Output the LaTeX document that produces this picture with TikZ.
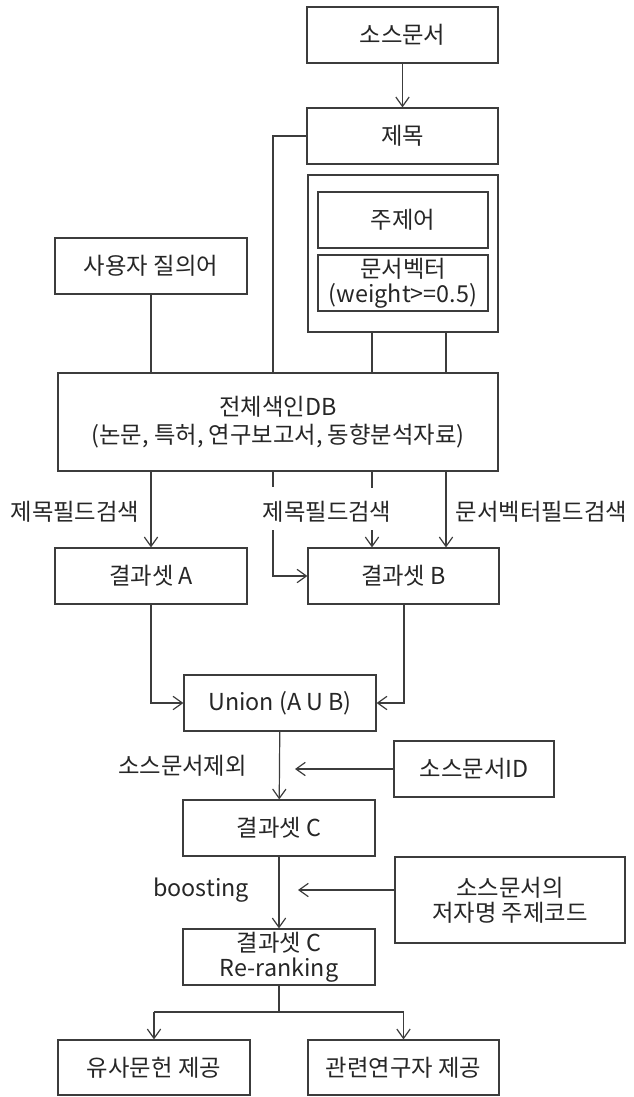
\documentclass[tikz,border=0pt]{standalone}
\usepackage{fontspec}
\setmainfont{Noto Sans CJK KR}
\usetikzlibrary{arrows.meta}
\definecolor{lncol}{HTML}{3C3C3C}
\definecolor{txtcol}{HTML}{262626}
\begin{document}
\begin{tikzpicture}[x=0.75pt,y=-0.75pt,
  every node/.style={font=\fontsize{17.5}{19}\selectfont, text=txtcol},
  box/.style={draw=lncol, line width=0.9pt, inner sep=0pt, align=center},
  sz/.style 2 args={minimum width=#1*0.75pt, minimum height=#2*0.75pt},
  ln/.style={draw=lncol, line width=0.9pt},
  arr/.style={ln, -{Straight Barb[length=7pt,width=10pt]}},
  lbl/.style={inner sep=0pt}]
\useasboundingbox (0,0) rectangle (633,1097);

% boxes
\node[box, sz={191}{56}] (src) at (402.5,35) {소스문서};
\node[box, sz={191}{56}] (title) at (402.5,136) {제목};
\node[box, sz={190}{157}] (grp) at (403,253.5) {};
\node[box, sz={170}{56}] (kw) at (403,220) {주제어};
\node[box, sz={170}{56}] (vec) at (403,283) {문서벡터\\(weight>=0.5)};
\node[box, sz={192}{56}] (query) at (151,266) {사용자 질의어};
\node[box, sz={440}{98}] (db) at (278,422) {전체색인DB\\[2pt](논문, 특허, 연구보고서, 동향분석자료)};
\node[box, sz={192}{56}] (resA) at (151,576) {결과셋 A};
\node[box, sz={191}{56}] (resB) at (403.5,576) {결과셋 B};
\node[box, sz={192}{56}] (union) at (280,703) {Union (A U B)};
\node[box, sz={160}{56}] (srcid) at (474,769) {소스문서ID};
\node[box, sz={192}{56}] (resC) at (279,828) {결과셋 C};
\node[box, sz={230}{86}] (meta) at (510,900) {소스문서의\\저자명 주제코드};
\node[box, sz={192}{56}] (rerank) at (279,957) {결과셋 C\\Re-ranking};
\node[box, sz={192}{55}] (sim) at (154,1067.5) {유사문헌 제공};
\node[box, sz={191}{55}] (rsr) at (403.5,1067.5) {관련연구자 제공};

% labels
\node[lbl] (l1) at (75,512) {제목필드검색};
\node[lbl] (l2) at (327,512) {제목필드검색};
\node[lbl] (l3) at (541.5,512) {문서벡터필드검색};
\node[lbl] (l4) at (182.5,766) {소스문서제외};
\node[lbl] (l5) at (201,890) {boosting};

% connectors
\draw[arr] (src) -- (title);
\draw[ln] (title.west) -| (273,0 |- db.north);
\draw[ln] (query) -- (query |- db.north);
\draw[ln] (372,0 |- grp.south) -- (372,0 |- db.north);
\draw[ln] (446,0 |- grp.south) -- (446,0 |- db.north);

\draw[arr] (resA.north |- db.south) -- (resA.north);
\draw[ln] (273,0 |- db.south) -- (273,487);
\draw[arr] (273,530) |- (resB.west);
\draw[ln] (372,0 |- db.south) -- (372,488);
\draw[arr] (372,530) -- (372,0 |- resB.north);
\draw[arr] (446,0 |- db.south) -- (446,0 |- resB.north);

\draw[arr] (resA.south) |- (union.west);
\draw[arr] (404,0 |- resB.south) |- (union.east);
\draw[arr] (union) -- (resC);
\coordinate (inC) at (295,769);
\draw[arr] (srcid.west) -- (inC);
\draw[arr] (resC) -- (rerank);
\coordinate (inR) at (298,890);
\draw[arr] (meta.west |- inR) -- (inR);
\coordinate (split) at (279,1012);
\draw[ln] (rerank.south) -- (rerank.south |- split);
\draw[ln] (sim.north |- split) -- (rsr.north |- split);
\draw[arr] (sim.north |- split) -- (sim.north);
\draw[arr] (rsr.north |- split) -- (rsr.north);
\end{tikzpicture}
\end{document}
